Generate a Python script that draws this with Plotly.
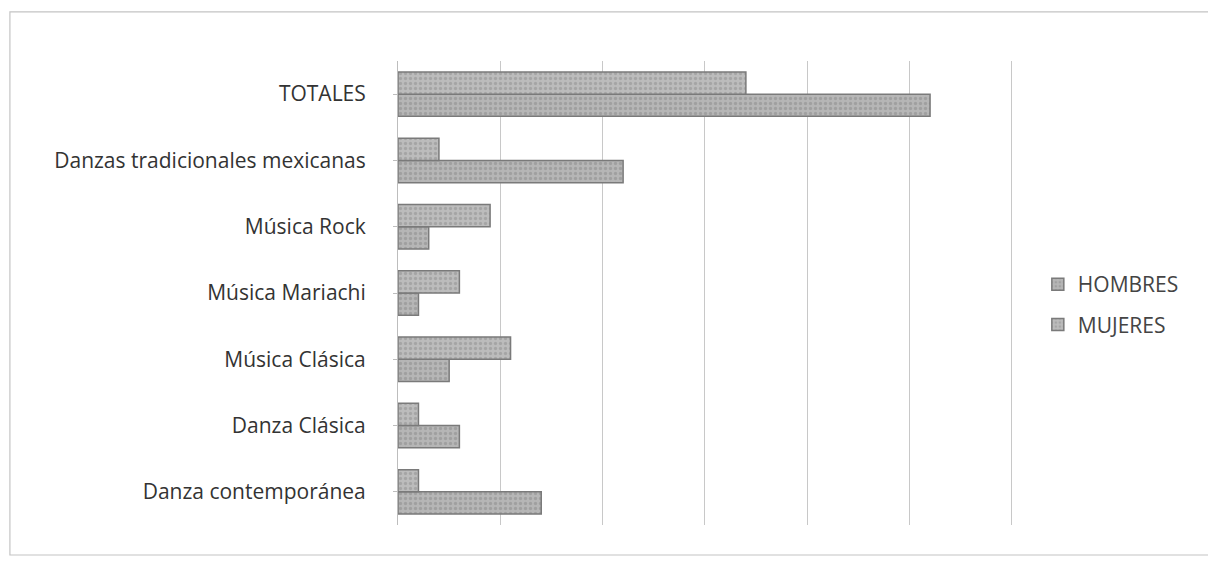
import plotly.graph_objects as go

categories = ["Danza contemporánea", "Danza Clásica", "Música Clásica",
              "Música Mariachi", "Música Rock", "Danzas tradicionales mexicanas", "TOTALES"]
hombres = [14, 6, 5, 2, 3, 22, 52]
mujeres = [2, 2, 11, 6, 9, 4, 34]
series_names = ["HOMBRES", "MUJERES"]

fig = go.Figure()
fig.add_trace(go.Bar(
    y=categories, x=hombres, name=series_names[0], orientation="h", legendgroup="h",
    marker=dict(color="#adadad", line=dict(color="#7a7a7a", width=1.5),
                pattern=dict(shape=".", fgcolor="#8a8a8a", bgcolor="#b6b6b6", size=5, solidity=0.35)),
))
fig.add_trace(go.Bar(
    y=categories, x=mujeres, name=series_names[1], orientation="h", legendgroup="m",
    marker=dict(color="#b3b3b3", line=dict(color="#7a7a7a", width=1.5),
                pattern=dict(shape=".", fgcolor="#8e8e8e", bgcolor="#bcbcbc", size=5, solidity=0.35)),
))

fig.update_layout(
    width=1208, height=565,
    paper_bgcolor="white", plot_bgcolor="white",
    barmode="group", bargap=0.33, bargroupgap=0,
    margin=dict(l=390, r=201, t=53, b=48),
    font=dict(family="Open Sans, Lato, sans-serif", size=21, color="#333333"),
    showlegend=True,
    legend=dict(x=1.037, y=0.475, xanchor="left", yanchor="middle", traceorder="grouped",
                font=dict(size=21, color="#444444"), itemwidth=30, tracegroupgap=10,
                bgcolor="rgba(0,0,0,0)"),
    shapes=[dict(type="rect", xref="paper", yref="paper",
                 x0=-0.629, x1=1.316, y0=-0.0647, y1=1.106,
                 line=dict(color="#c4c4c4", width=1.2))],
)
fig.update_xaxes(range=[0, 60.3], dtick=10, showticklabels=False, showgrid=True,
                 gridcolor="#c8c8c8", gridwidth=1, zeroline=False, showline=False)
fig.update_yaxes(showline=True, linecolor="#bdbdbd", linewidth=1, ticks="outside",
                 ticklen=4, tickcolor="#bdbdbd", ticklabelstandoff=23,
                 showgrid=False)

fig.write_html("out.html")
